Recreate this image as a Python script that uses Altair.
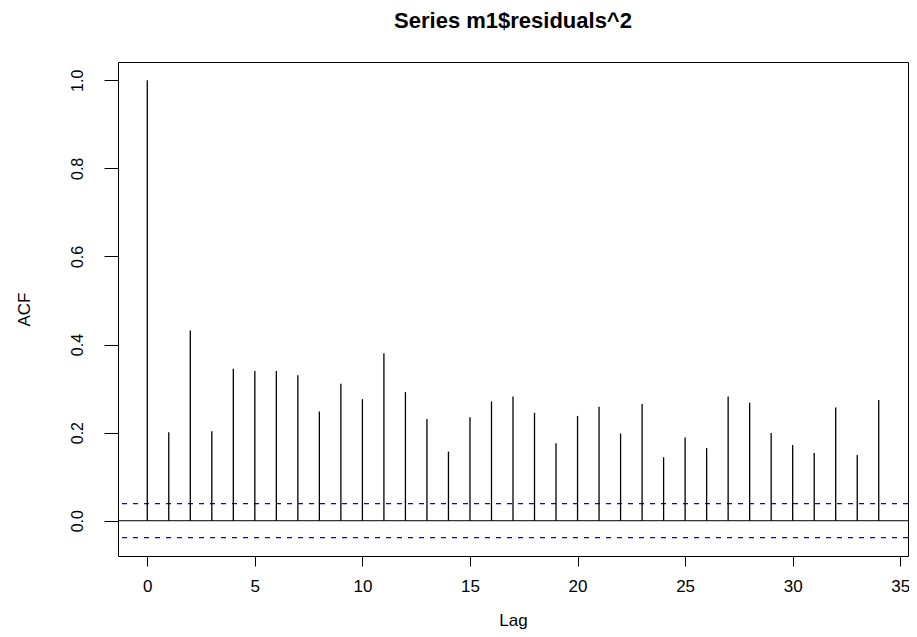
import altair as alt
import pandas as pd

lags = list(range(35))
acf_values = [1.0, 0.201, 0.432, 0.203, 0.345, 0.340, 0.340, 0.330, 0.248, 0.311,
              0.276, 0.380, 0.292, 0.231, 0.157, 0.235, 0.271, 0.282, 0.245, 0.176,
              0.238, 0.259, 0.198, 0.265, 0.144, 0.189, 0.165, 0.282, 0.268, 0.199,
              0.172, 0.154, 0.257, 0.149, 0.274]
clim = 0.0386
x_ticks = [0, 5, 10, 15, 20, 25, 30, 35]
y_ticks = [0.0, 0.2, 0.4, 0.6, 0.8, 1.0]
x_domain = [-1.36, 35.36]
y_domain = [-0.0801, 1.0415]

df = pd.DataFrame({"lag": lags, "acf": acf_values, "zero": [0.0] * len(lags)})
hl = pd.DataFrame({"v": [0.0]})
cl = pd.DataFrame({"v": [clim, -clim]})

FONT = "Liberation Sans"

xscale = alt.Scale(domain=x_domain, nice=False, zero=False)
yscale = alt.Scale(domain=y_domain, nice=False, zero=False)

xaxis = alt.Axis(values=x_ticks, title="Lag", grid=False, domain=False,
                 tickColor="black", tickSize=10, tickWidth=1,
                 labelFont=FONT, labelFontSize=17, labelColor="black",
                 labelPadding=12, labelFlush=False,
                 titleFont=FONT, titleFontSize=17, titleFontWeight="normal",
                 titleColor="black", titleX=395, titleY=69,
                 titleAlign="center", titleBaseline="alphabetic")
yaxis = alt.Axis(values=y_ticks, title="ACF", grid=False, domain=False,
                 format=".1f", tickColor="black", tickSize=14, tickWidth=1,
                 labelFont=FONT, labelFontSize=16, labelColor="black",
                 labelAngle=270, labelAlign="center", labelBaseline="middle",
                 labelPadding=27, labelFlush=False,
                 titleFont=FONT, titleFontSize=17, titleFontWeight="normal",
                 titleColor="black", titleAngle=270, titleX=-94, titleY=247,
                 titleAlign="center", titleBaseline="middle")

stems = alt.Chart(df).mark_rule(color="black", strokeWidth=1.3).encode(
    x=alt.X("lag:Q", scale=xscale, axis=xaxis),
    y=alt.Y("zero:Q", scale=yscale, axis=yaxis),
    y2="acf:Q",
)

zero_line = alt.Chart(hl).mark_rule(color="black", strokeWidth=1).encode(
    y=alt.Y("v:Q", scale=yscale)
)

ci_lines = alt.Chart(cl).mark_rule(color="#0000FF", strokeWidth=1.2,
                                   strokeDash=[5, 6]).encode(
    y=alt.Y("v:Q", scale=yscale)
)

chart = alt.layer(zero_line, ci_lines, stems).properties(
    width=790,
    height=494,
    background="white",
    autosize=alt.AutoSizeParams(type="none"),
    padding={"left": 110, "top": 54, "right": 1, "bottom": 73},
    title=alt.TitleParams("Series  m1$residuals^2", font=FONT, fontSize=22,
                          fontWeight="bold", color="black", anchor="middle",
                          offset=29),
).configure_view(
    stroke="black", strokeWidth=1
)

chart.save("out.html", embed_options={"renderer": "svg", "actions": False})
